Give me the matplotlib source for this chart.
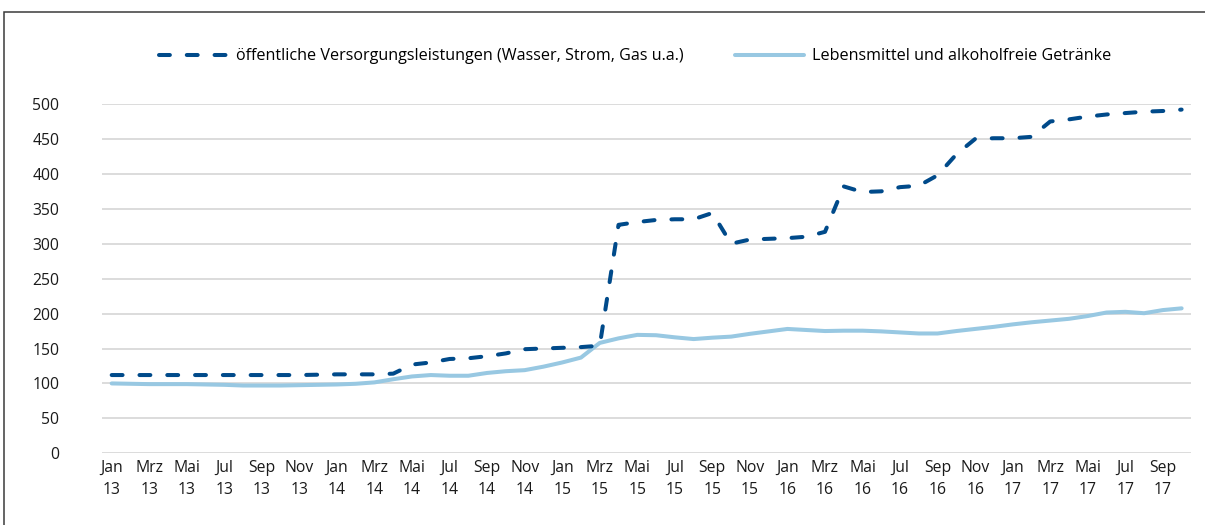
import numpy as np
import matplotlib
matplotlib.use("Agg")
import matplotlib.pyplot as plt
from matplotlib.patches import Rectangle

plt.rcParams['font.family'] = ['Open Sans', 'DejaVu Sans']

month_names = ['Jan', 'Feb', 'Mrz', 'Apr', 'Mai', 'Jun',
               'Jul', 'Aug', 'Sep', 'Okt', 'Nov', 'Dez']
years = ['13', '14', '15', '16', '17']

versorgung = [112, 112, 112, 112, 112, 112, 112, 112, 112, 112, 112, 112.5,
              113, 113, 113, 114, 127, 130, 135, 136, 139, 143, 149, 150,
              151, 152, 154, 327, 331, 334, 335, 335, 344, 300, 306, 307,
              308, 310, 317, 382, 374, 375, 381, 383, 398, 428, 450, 451,
              451, 453, 475, 478, 482, 485, 487, 489, 490, 492]

lebensmittel = [100, 99.5, 99, 99, 99, 98.5, 98, 97, 97, 97, 97.5, 98,
                98.5, 99.5, 101.5, 106, 110, 112, 111, 111, 115, 117.5, 119, 124,
                130, 137, 158, 164.5, 169.5, 169, 166, 163.5, 165.5, 167, 171, 174.5,
                178, 176.5, 175, 175.5, 175.5, 174.5, 173, 171.5, 171.5, 175, 178, 181,
                184.5, 187.5, 190, 192.5, 196.5, 201.5, 202.5, 200.5, 205, 207.5]

label_versorgung = 'öffentliche Versorgungsleistungen (Wasser, Strom, Gas u.a.)'
label_lebensmittel = 'Lebensmittel und alkoholfreie Getränke'

labels = [m + '\n' + y for y in years for m in month_names][:len(versorgung)]
x = np.arange(len(versorgung))

fig = plt.figure(figsize=(12.05, 5.25), dpi=100)
ax = fig.add_axes([0.0849, 0.1366, 0.9035, 0.6653])

ax.plot(x, versorgung, color='#004a8a', lw=2.9, dashes=(2.7, 4.2),
        dash_capstyle='round', label=label_versorgung, zorder=3)
ax.plot(x, lebensmittel, color='#98c8e2', lw=2.9, solid_capstyle='round',
        label=label_lebensmittel, zorder=2)

ax.set_xlim(-0.5, len(x) - 0.5)
ax.set_ylim(0, 500)
ax.set_yticks(np.arange(0, 501, 50))
ax.set_xticks(x[::2])
ax.set_xticklabels(labels[::2], linespacing=1.45)
ax.grid(axis='y', color='#d9d9d9', lw=1.3)
ax.set_axisbelow(True)
for s in ax.spines.values():
    s.set_visible(False)
ax.tick_params(length=0, labelsize=11.3, colors='#1a1a1a')
ax.tick_params(axis='y', pad=31)
ax.tick_params(axis='x', pad=5)

fig.legend(loc='center', bbox_to_anchor=(0.527, 0.893), ncol=2, frameon=False,
           fontsize=11.6, handlelength=4.3, handletextpad=0.45, columnspacing=3.2)

fig.add_artist(Rectangle((4 / 1205, -0.1), 1.2, 1.1 - 12 / 525,
                         transform=fig.transFigure, fill=False,
                         edgecolor='#3a3a3a', lw=1.1))

fig.savefig('out.png', dpi=100)
